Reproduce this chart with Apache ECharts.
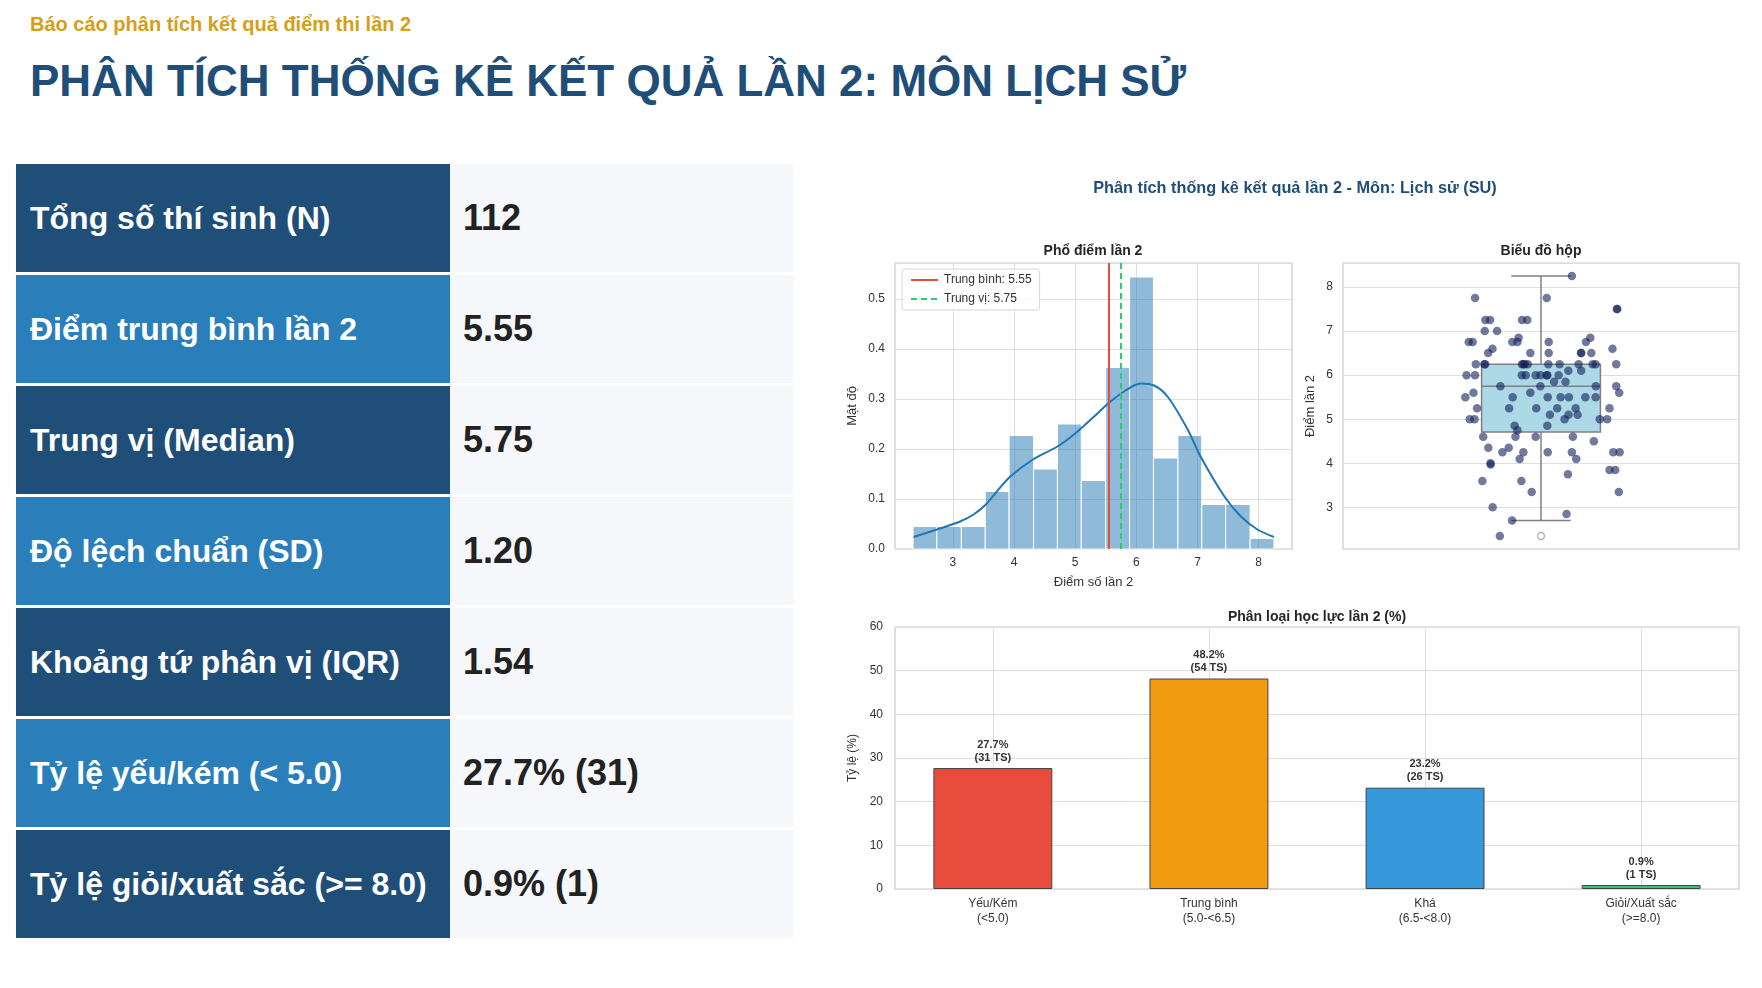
<!DOCTYPE html>
<html lang="vi">
<head>
<meta charset="utf-8">
<title>Phân tích thống kê kết quả lần 2 - Lịch sử</title>
<script src="https://cdn.jsdelivr.net/npm/echarts@6/dist/echarts.min.js"></script>
<style>
  body { margin: 0; width: 1762px; height: 988px; background: #fff; position: relative; overflow: hidden;
         font-family: Arial, 'Liberation Sans', sans-serif; }
  .sub { position: absolute; left: 30px; top: 14px; font-size: 20px; line-height: 1; font-weight: bold; color: #D4A017; }
  h1 { position: absolute; left: 30px; top: 59px; margin: 0; font-size: 44px; line-height: 1; color: #1F4E79; }
  .stats { position: absolute; left: 16px; top: 164px; width: 777px; }
  .row { display: flex; height: 108px; margin-bottom: 3px; }
  .row .k { width: 434px; box-sizing: border-box; padding-left: 14px; display: flex; align-items: center;
            background: #1F4E79; color: #fff; font-weight: bold; font-size: 32px; }
  .row.alt .k { background: #2A7FBA; }
  .row .v { flex: 1; padding-left: 13px; display: flex; align-items: center;
            background: #F5F7FA; color: #222; font-weight: bold; font-size: 36px; }
  #chart { position: absolute; left: 800px; top: 140px; width: 962px; height: 820px; }
</style>
</head>
<body>
<div class="sub">Báo cáo phân tích kết quả điểm thi lần 2</div>
<h1>PHÂN TÍCH THỐNG KÊ KẾT QUẢ LẦN 2: MÔN LỊCH SỬ</h1>
<div class="stats" id="stats"></div>
<div id="chart"></div>
<script>
// bảng thống kê
const statLabels = ['Tổng số thí sinh (N)', 'Điểm trung bình lần 2', 'Trung vị (Median)', 'Độ lệch chuẩn (SD)',
  'Khoảng tứ phân vị (IQR)', 'Tỷ lệ yếu/kém (< 5.0)', 'Tỷ lệ giỏi/xuất sắc (>= 8.0)']
const statValues = ['112', '5.55', '5.75', '1.20', '1.54', '27.7% (31)', '0.9% (1)']

// phổ điểm (histogram + kde)
const histEdges = [2.35, 2.74, 3.14, 3.53, 3.92, 4.32, 4.71, 5.10, 5.50, 5.89, 6.28, 6.68, 7.07, 7.46, 7.86, 8.25]
const histDensity = [0.045, 0.045, 0.045, 0.115, 0.227, 0.16, 0.25, 0.137, 0.363, 0.544, 0.182, 0.227, 0.089, 0.089, 0.021]
const kdeX = [2.36, 2.74, 3.12, 3.34, 3.54, 3.72, 3.94, 4.31, 4.71, 4.98, 5.31, 5.55, 5.80, 6.07, 6.29, 6.51, 6.84, 7.05, 7.44, 7.71, 7.98, 8.25]
const kdeY = [0.024, 0.039, 0.055, 0.069, 0.089, 0.115, 0.145, 0.179, 0.205, 0.229, 0.265, 0.292, 0.315, 0.331, 0.327, 0.305, 0.239, 0.185, 0.105, 0.065, 0.039, 0.024]
const meanScore = 5.55
const medianScore = 5.75

// biểu đồ hộp: min, q1, median, q3, max
const boxStats = [2.7, 4.71, 5.75, 6.25, 8.25]
const outliers = [2.35]
const stripY = [8.25, 7.75, 7.75, 7.5, 7.5, 7.25, 7.25, 7.25, 7.25, 7.0, 7.0, 6.85, 6.85,
  6.75, 6.75, 6.75, 6.75, 6.75, 6.75, 6.6, 6.6, 6.5, 6.5, 6.5, 6.5, 6.5, 6.5,
  6.25, 6.25, 6.25, 6.25, 6.25, 6.25, 6.25, 6.25, 6.25, 6.25, 6.25, 6.25, 6.25,
  6.1, 6.1, 6.0, 6.0, 6.0, 6.0, 6.0, 6.0, 6.0, 6.0, 6.0, 5.85, 5.85, 5.75, 5.75, 5.75, 5.75,
  5.6, 5.6, 5.6, 5.5, 5.5, 5.5, 5.5, 5.5, 5.5, 5.5, 5.25, 5.25, 5.25, 5.25, 5.25, 5.25,
  5.1, 5.1, 5.1, 5.0, 5.0, 5.0, 5.0, 5.0, 4.85, 4.85, 4.75, 4.6, 4.6, 4.6, 4.6, 4.5,
  4.35, 4.35, 4.25, 4.25, 4.25, 4.25, 4.25, 4.25, 4.1, 4.1, 4.0, 3.97, 3.85, 3.85, 3.75,
  3.6, 3.6, 3.35, 3.35, 3.0, 2.85, 2.7, 2.35]
const stripX = [0.156, -0.333, 0.029, 0.383, 0.385, -0.281, -0.257, -0.096, -0.069, -0.284, -0.222, -0.113, 0.249,
  -0.365, -0.345, -0.145, -0.119, 0.039, 0.227, -0.245, 0.361, -0.267, -0.054, 0.039, 0.202, 0.203, 0.254,
  -0.329, -0.286, -0.282, -0.096, -0.089, -0.082, -0.067, 0.037, 0.094, 0.190, 0.261, 0.276, 0.380,
  0.138, 0.203, -0.376, -0.333, -0.097, -0.077, -0.027, -0.002, 0.029, 0.032, 0.089, 0.066, 0.124, -0.205, -0.003, 0.277, 0.380,
  -0.341, -0.054, 0.395, -0.382, -0.143, 0.034, 0.099, 0.141, 0.224, 0.276, -0.323, -0.161, -0.024, 0.082, 0.175, 0.346,
  0.045, 0.139, 0.185, -0.360, -0.336, 0.119, 0.297, 0.334, -0.133, 0.032, -0.119, -0.292, -0.129, -0.027, 0.161, 0.267,
  -0.266, -0.163, -0.195, -0.089, 0.034, 0.156, 0.365, 0.397, -0.108, 0.178, -0.255, -0.254, 0.346, 0.375, 0.136,
  -0.296, -0.099, -0.047, 0.393, -0.244, 0.129, -0.146, -0.208]

// phân loại học lực
const levelNames = ['Yếu/Kém\n(<5.0)', 'Trung bình\n(5.0-<6.5)', 'Khá\n(6.5-<8.0)', 'Giỏi/Xuất sắc\n(>=8.0)']
const levelPct = [27.7, 48.2, 23.2, 0.9]
const levelCount = [31, 54, 26, 1]
const levelColors = ['#E74C3C', '#F39C12', '#3498DB', '#2ECC71']

// bảng bên trái
let rows = ''
statLabels.forEach((label, i) => {
  rows += `<div class="row${i % 2 ? ' alt' : ''}"><div class="k">${label}</div><div class="v">${statValues[i]}</div></div>`
})
document.getElementById('stats').innerHTML = rows

const font = "Arial, 'Liberation Sans', sans-serif"
const gridColor = '#dedede'
const spineColor = '#cccccc'
const tickText = { color: '#333', fontSize: 12, fontFamily: font }
const nameText = { color: '#333', fontSize: 13, fontFamily: font }
const isInt = v => Math.abs(v - Math.round(v)) < 1e-6
const meanName = 'Trung bình: ' + meanScore.toFixed(2)
const medianName = 'Trung vị: ' + medianScore.toFixed(2)

function renderBin (params, api) {
  const a = api.coord([api.value(0), api.value(2)])
  const b = api.coord([api.value(1), 0])
  return {
    type: 'rect',
    shape: { x: a[0], y: a[1], width: b[0] - a[0], height: b[1] - a[1] },
    style: { fill: 'rgba(31,119,180,0.5)', stroke: '#fff', lineWidth: 1 }
  }
}

function renderBox (params, api) {
  const c = api.value(0)
  const lo = api.value(1), q1 = api.value(2), med = api.value(3), q3 = api.value(4), hi = api.value(5)
  const half = 0.3, cap = 0.15
  const pt = (x, y) => api.coord([x, y])
  const line = (p, q) => ({
    type: 'line',
    shape: { x1: p[0], y1: p[1], x2: q[0], y2: q[1] },
    style: { stroke: '#808080', lineWidth: 1.5 }
  })
  const tl = pt(c - half, q3)
  const br = pt(c + half, q1)
  return {
    type: 'group',
    children: [
      line(pt(c, q3), pt(c, hi)),
      line(pt(c, q1), pt(c, lo)),
      line(pt(c - cap, hi), pt(c + cap, hi)),
      line(pt(c - cap, lo), pt(c + cap, lo)),
      { type: 'rect', shape: { x: tl[0], y: tl[1], width: br[0] - tl[0], height: br[1] - tl[1] },
        style: { fill: '#ADD8E6', stroke: '#808080', lineWidth: 1.5 } },
      line(pt(c - half, med), pt(c + half, med))
    ]
  }
}

const subTitle = { fontSize: 14, fontWeight: 'bold', color: '#262626', fontFamily: font }

const option = {
  animation: false,
  textStyle: { fontFamily: font },
  title: [
    { text: 'Phân tích thống kê kết quả lần 2 - Môn: Lịch sử (SU)', left: 495, top: 41, padding: 0, textAlign: 'center',
      textStyle: { fontSize: 16.3, fontWeight: 'bold', color: '#1F4E79', fontFamily: font } },
    { text: 'Phổ điểm lần 2', left: 293, top: 104, padding: 0, textAlign: 'center', textStyle: subTitle },
    { text: 'Biểu đồ hộp', left: 741, top: 104, padding: 0, textAlign: 'center', textStyle: subTitle },
    { text: 'Phân loại học lực lần 2 (%)', left: 517, top: 470, padding: 0, textAlign: 'center', textStyle: subTitle }
  ],
  legend: {
    data: [meanName, medianName],
    orient: 'vertical',
    left: 102, top: 129,
    itemWidth: 27, itemHeight: 10, itemGap: 7,
    padding: [5, 8],
    itemStyle: { opacity: 0 },
    backgroundColor: 'rgba(255,255,255,0.85)',
    borderColor: '#d5d5d5', borderWidth: 1, borderRadius: 3,
    textStyle: { fontSize: 12, color: '#333', fontFamily: font, padding: [0, 0, 0, 1] }
  },
  grid: [
    { left: 95, top: 123, width: 397, height: 286, show: true, borderColor: spineColor, borderWidth: 1.25, backgroundColor: '#fff' },
    { left: 543, top: 123, width: 396, height: 286, show: true, borderColor: spineColor, borderWidth: 1.25, backgroundColor: '#fff' },
    { left: 95, top: 487, width: 844, height: 262, show: true, borderColor: spineColor, borderWidth: 1.25, backgroundColor: '#fff' },
    { left: 84.8, top: 487, width: 864.4, height: 262 }
  ],
  xAxis: [
    { type: 'value', gridIndex: 0, min: 2.055, max: 8.545,
      axisLine: { show: false }, axisTick: { show: false },
      axisLabel: Object.assign({ margin: 8, formatter: v => isInt(v) ? String(Math.round(v)) : '' }, tickText),
      splitLine: { show: true, lineStyle: { color: gridColor, width: 1 } },
      name: 'Điểm số lần 2', nameLocation: 'middle', nameGap: 27, nameTextStyle: nameText },
    { type: 'value', gridIndex: 1, min: -1, max: 1, show: false },
    { type: 'value', gridIndex: 2, min: 0, max: 1, show: false },
    { type: 'category', gridIndex: 3, data: levelNames,
      axisLine: { show: false }, axisTick: { show: false }, splitLine: { show: false },
      axisLabel: Object.assign({ margin: 7, lineHeight: 15 }, tickText) }
  ],
  yAxis: [
    { type: 'value', gridIndex: 0, min: 0, max: 0.572,
      axisLine: { show: false }, axisTick: { show: false },
      axisLabel: Object.assign({ margin: 10, formatter: v => isInt(v * 10) ? v.toFixed(1) : '' }, tickText),
      splitLine: { show: true, lineStyle: { color: gridColor, width: 1 } },
      name: 'Mật độ', nameLocation: 'middle', nameGap: 36, nameTextStyle: nameText },
    { type: 'value', gridIndex: 1, min: 2.055, max: 8.545,
      axisLine: { show: false }, axisTick: { show: false },
      axisLabel: Object.assign({ margin: 10, formatter: v => isInt(v) ? String(Math.round(v)) : '' }, tickText),
      splitLine: { show: true, lineStyle: { color: gridColor, width: 1 } },
      name: 'Điểm lần 2', nameLocation: 'middle', nameGap: 26, nameTextStyle: nameText },
    { type: 'value', gridIndex: 2, min: 0, max: 60, interval: 10,
      axisLine: { show: false }, axisTick: { show: false },
      axisLabel: Object.assign({ margin: 12 }, tickText),
      splitLine: { show: true, lineStyle: { color: gridColor, width: 1 } },
      name: 'Tỷ lệ (%)', nameLocation: 'middle', nameGap: 29, nameTextStyle: Object.assign({}, nameText, { fontSize: 12 }) },
    { type: 'value', gridIndex: 3, min: 0, max: 60, show: false }
  ],
  series: [
    {
      type: 'custom', name: 'hist', xAxisIndex: 0, yAxisIndex: 0, z: 2,
      renderItem: renderBin,
      encode: { x: [0, 1], y: 2 },
      data: histDensity.map((d, i) => [histEdges[i], histEdges[i + 1], d])
    },
    {
      type: 'line', name: 'kde', xAxisIndex: 0, yAxisIndex: 0, z: 4,
      smooth: 0.3, symbol: 'none',
      lineStyle: { color: '#1f77b4', width: 2 },
      data: kdeX.map((x, i) => [x, kdeY[i]])
    },
    {
      type: 'line', name: meanName, xAxisIndex: 0, yAxisIndex: 0, data: [], symbol: 'none',
      itemStyle: { color: '#E74C3C' }, lineStyle: { color: '#E74C3C', width: 2 },
      markLine: { silent: true, symbol: ['none', 'none'], label: { show: false }, z: 5,
        lineStyle: { color: '#E74C3C', width: 2, type: 'solid' }, data: [{ xAxis: meanScore }] }
    },
    {
      type: 'line', name: medianName, xAxisIndex: 0, yAxisIndex: 0, data: [], symbol: 'none',
      itemStyle: { color: '#2ECC71' }, lineStyle: { color: '#2ECC71', width: 2, type: [6, 4] },
      markLine: { silent: true, symbol: ['none', 'none'], label: { show: false }, z: 5,
        lineStyle: { color: '#2ECC71', width: 2, type: [6, 4] }, data: [{ xAxis: medianScore }] }
    },
    {
      type: 'custom', name: 'box', xAxisIndex: 1, yAxisIndex: 1, z: 2,
      renderItem: renderBox,
      encode: { x: 0, y: [1, 2, 3, 4, 5] },
      data: [[0].concat(boxStats)]
    },
    {
      type: 'scatter', name: 'outlier', xAxisIndex: 1, yAxisIndex: 1, z: 3,
      symbolSize: 7,
      itemStyle: { color: '#fff', borderColor: '#777', borderWidth: 1 },
      data: outliers.map(v => [0, v])
    },
    {
      type: 'scatter', name: 'strip', xAxisIndex: 1, yAxisIndex: 1, z: 5,
      symbolSize: 8.5,
      itemStyle: { color: 'rgba(16,30,87,0.74)' },
      data: stripX.map((x, i) => [x, stripY[i]])
    },
    {
      type: 'line', name: 'vgrid', xAxisIndex: 3, yAxisIndex: 3, data: [], z: 1,
      markLine: { silent: true, symbol: ['none', 'none'], label: { show: false }, z: 1,
        lineStyle: { color: gridColor, width: 1, type: 'solid' },
        data: levelNames.map(n => ({ xAxis: n })) }
    },
    {
      type: 'bar', name: 'level', xAxisIndex: 3, yAxisIndex: 3, z: 3,
      barWidth: 118.9,
      itemStyle: { borderColor: '#444', borderWidth: 1 },
      label: {
        show: true, position: 'top', distance: 4,
        formatter: p => levelPct[p.dataIndex].toFixed(1) + '%\n(' + levelCount[p.dataIndex] + ' TS)',
        fontSize: 11, fontWeight: 'bold', color: '#333', lineHeight: 13, fontFamily: font
      },
      data: levelPct.map((p, i) => ({ value: p, itemStyle: { color: levelColors[i] } }))
    }
  ]
}

const myChart = echarts.init(document.getElementById('chart'))
myChart.setOption(option)
</script>
</body>
</html>
